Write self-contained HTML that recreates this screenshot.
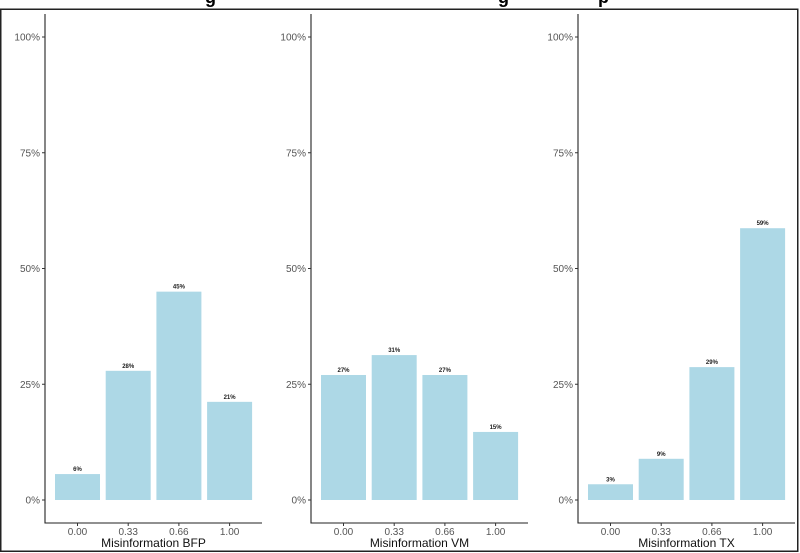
<!DOCTYPE html>
<html><head><meta charset="utf-8"><style>
html,body{margin:0;padding:0;background:#fff;width:800px;height:553px;overflow:hidden}
svg{display:block;font-family:"Liberation Sans",sans-serif}
</style></head><body>
<svg id="c" width="800" height="553" viewBox="0 0 800 553">
<text x="205" y="3" font-size="18" font-weight="bold">g</text>
<text x="498" y="3" font-size="18" font-weight="bold">g</text>
<text x="598" y="3" font-size="18" font-weight="bold">p</text>
<rect x="0.75" y="9.25" width="797" height="542" fill="none" stroke="#222" stroke-width="1.5"/>
</svg>
<script>
const categories = ["0.00","0.33","0.66","1.00"];
const panelTitles = ["Misinformation BFP","Misinformation VM","Misinformation TX"];
const valuesBFP = [5.6, 27.9, 45.0, 21.2];
const valuesVM = [27.0, 31.3, 27.0, 14.7];
const valuesTX = [3.4, 8.9, 28.7, 58.7];
const yTicks = [0, 25, 50, 75, 100];
const series = [valuesBFP, valuesVM, valuesTX];
const axisX = [45, 311, 578];

const svg = document.getElementById('c');
const NS = 'http://www.w3.org/2000/svg';
function mk(tag, attrs){const e=document.createElementNS(NS,tag);for(const k in attrs)e.setAttribute(k,attrs[k]);svg.appendChild(e);return e;}
const y = v => 500 - v * 4.63;
const unit = 50.7;
series.forEach((vals, p) => {
  const ax = axisX[p];
  const x = i => ax + 32.5 + i * unit;
  const yl = mk('line',{x1:ax,y1:14,x2:ax,y2:523.5,stroke:'#222','stroke-width':1.1});
  
  
  const xl = mk('line',{x1:ax,y1:523,x2:ax+217,y2:523,stroke:'#222','stroke-width':1.1});
  
  
  yTicks.forEach(t => {
    const tk = mk('line',{x1:ax-3,y1:y(t),x2:ax,y2:y(t),stroke:'#333','stroke-width':1});
    
    
    const tl = mk('text',{x:ax-5,y:y(t)+3.5,'text-anchor':'end','font-size':10,fill:'#555'});
    tl.textContent = t + '%';
    
    
  });
  vals.forEach((v, i) => {
    const b = mk('rect',{x:x(i)-22.5,y:y(v),width:45,height:500-y(v),fill:'#add8e6'});
    
    
    const bl = mk('text',{x:x(i),y:y(v)-3,'text-anchor':'middle','font-size':6,'font-weight':'bold',fill:'#222'});
    bl.textContent = Math.round(v) + '%';
    
    
    const tk = mk('line',{x1:x(i),y1:523,x2:x(i),y2:526,stroke:'#333','stroke-width':1});
    
    
    const xl2 = mk('text',{x:x(i),y:535,'text-anchor':'middle','font-size':10,fill:'#555'});
    xl2.textContent = categories[i];
    
    
  });
  const tt = mk('text',{x:ax+108.5,y:547,'text-anchor':'middle','font-size':12,fill:'#111'});
  tt.textContent = panelTitles[p];
  
  
});
</script>
</body></html>
